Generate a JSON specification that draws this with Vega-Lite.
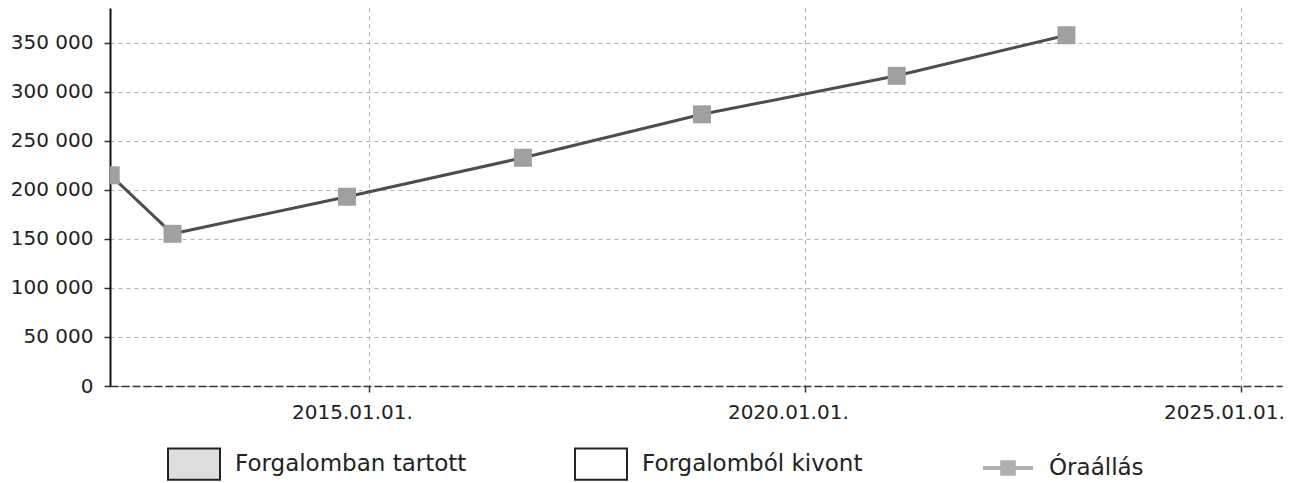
{
  "$schema": "https://vega.github.io/schema/vega-lite/v6.json",
  "width": 1172,
  "height": 378,
  "autosize": {"type": "none"},
  "padding": {"left": 110, "top": 8, "right": 14, "bottom": 97},
  "background": "white",
  "config": {"view": {"stroke": null}, "font": "DejaVu Sans"},
  "layer": [
    {
      "data": {"values": [
        {"date": "2012-01-15", "value": 215000},
        {"date": "2012-09-30", "value": 155300},
        {"date": "2014-10-01", "value": 193100},
        {"date": "2016-10-07", "value": 232900},
        {"date": "2018-10-27", "value": 277200},
        {"date": "2021-01-20", "value": 316500},
        {"date": "2023-01-01", "value": 357900}
      ]},
      "encoding": {
        "x": {
          "field": "date", "type": "temporal",
          "scale": {"domain": [{"year": 2012, "month": 1, "date": 12}, {"year": 2025, "month": 6, "date": 22}]},
          "axis": {
            "values": [{"year": 2015, "month": 1, "date": 1}, {"year": 2020, "month": 1, "date": 1}, {"year": 2025, "month": 1, "date": 1}],
            "format": "%Y.%m.%d.", "formatType": "time", "title": null,
            "grid": true, "gridDash": [4, 4], "gridColor": "#b0b0b0", "gridWidth": 1,
            "domainColor": "#333333", "domainDash": [8, 3], "domainWidth": 1.5,
            "tickColor": "#333333", "tickSize": 6, "tickWidth": 1.5,
            "labelFontSize": 20, "labelFont": "DejaVu Sans", "labelColor": "#222222",
            "labelPadding": 10, "labelFlush": false, "labelOverlap": false,
            "labelOffset": -17
          }
        },
        "y": {
          "field": "value", "type": "quantitative",
          "scale": {"domain": [0, 385700], "nice": false, "zero": true},
          "axis": {
            "values": [0, 50000, 100000, 150000, 200000, 250000, 300000, 350000],
            "labelExpr": "replace(format(datum.value, ','), regexp(',', 'g'), ' ')",
            "title": null,
            "grid": true, "gridDash": [4, 4], "gridColor": "#b0b0b0", "gridWidth": 1,
            "domainColor": "#111111", "domainWidth": 2,
            "tickColor": "#333333", "tickSize": 6, "tickWidth": 1.5,
            "labelFontSize": 20, "labelFont": "DejaVu Sans", "labelColor": "#222222",
            "labelPadding": 11, "labelOverlap": false
          }
        }
      },
      "layer": [
        {"mark": {"type": "line", "color": "#4d4d4d", "strokeWidth": 3, "clip": true}},
        {"mark": {"type": "point", "shape": "square", "filled": true, "size": 324, "color": "#a0a0a0", "opacity": 1, "clip": true}}
      ]
    },
    {
      "data": {"values": []},
      "mark": {"type": "point"},
      "encoding": {
        "fill": {
          "field": "series", "type": "nominal",
          "scale": {"domain": ["Forgalomban tartott", "Forgalomból kivont", "Óraállás"], "range": ["#dedede", "#ffffff", "#b0b0b0"]},
          "legend": {"title": null, "orient": "none", "legendX": 57, "legendY": 429, "direction": "horizontal", "columns": 3, "gridAlign": "all", "columnPadding": 104, "symbolSize": 2704, "symbolStrokeWidth": 2, "symbolOpacity": 1, "labelFontSize": 23, "labelFont": "DejaVu Sans", "labelColor": "#222222", "labelOffset": 14, "labelLimit": 400, "padding": 0}
        },
        "stroke": {
          "field": "series", "type": "nominal",
          "scale": {"domain": ["Forgalomban tartott", "Forgalomból kivont", "Óraállás"], "range": ["#222222", "#222222", "transparent"]},
          "legend": {"title": null, "orient": "none", "legendX": 57, "legendY": 429, "direction": "horizontal", "columns": 3, "gridAlign": "all", "columnPadding": 104, "symbolSize": 2704, "symbolStrokeWidth": 2, "symbolOpacity": 1, "labelFontSize": 23, "labelFont": "DejaVu Sans", "labelColor": "#222222", "labelOffset": 14, "labelLimit": 400, "padding": 0}
        },
        "shape": {
          "field": "series", "type": "nominal",
          "scale": {"domain": ["Forgalomban tartott", "Forgalomból kivont", "Óraállás"], "range": ["M-1,-0.6H1V0.6H-1Z", "M-1,-0.6H1V0.6H-1Z", "M-0.96,-0.08H-0.3V-0.3H0.3V-0.08H0.96V0.08H0.3V0.3H-0.3V0.08H-0.96Z"]},
          "legend": {"title": null, "orient": "none", "legendX": 57, "legendY": 429, "direction": "horizontal", "columns": 3, "gridAlign": "all", "columnPadding": 104, "symbolSize": 2704, "symbolStrokeWidth": 2, "symbolOpacity": 1, "labelFontSize": 23, "labelFont": "DejaVu Sans", "labelColor": "#222222", "labelOffset": 14, "labelLimit": 400, "padding": 0}
        }
      }
    }
  ]
}
